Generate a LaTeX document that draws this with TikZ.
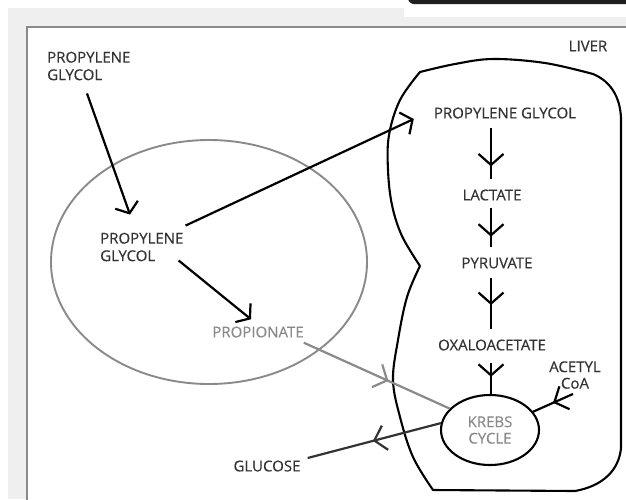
\documentclass[tikz,border=0pt]{standalone}
\usepackage{fontspec}
\setmainfont{Open Sans}
\newfontfamily\lblfont{Open Sans}[FakeBold=0.35]
\usetikzlibrary{arrows.meta,decorations.markings,calc,shapes.geometric}
\definecolor{txt}{HTML}{333333}
\definecolor{lgray}{HTML}{8A8A8A}
\definecolor{dgray}{HTML}{333333}
\definecolor{bg}{HTML}{EFEFEF}
\begin{document}
\begin{tikzpicture}[x=1pt,y=-1pt,
  lbl/.style={font=\lblfont\fontsize{15}{17.5}\selectfont, text=txt, inner sep=0pt, align=center},
  arr/.style={draw=black, line width=2.2pt, -{Straight Barb[length=9pt,width=24pt]}},
  midarr/.style={line width=2.2pt, postaction={decorate},
    decoration={markings, mark=at position #1 with {\arrow{Straight Barb[length=11pt,width=25pt]}}}},
]
\useasboundingbox (0,0) rectangle (626,499);
% background frame
\fill[bg] (8,8) rectangle (626,499);
\fill[white] (404,0) rectangle (626,17);
\fill[black!88, rounded corners=6pt] (408,-12) rectangle (640,4);
\draw[fill=white, draw=lgray, line width=1.3pt] (27,27) rectangle (640,510);

% body ellipse
\node[ellipse, draw=lgray, line width=1.9pt, minimum width=316pt, minimum height=244pt, inner sep=0pt] (body) at (209,262) {};

% liver outline
\draw[line width=2.1pt, line join=round]
  plot[smooth, tension=0.6] coordinates {(420,266) (407,297) (398,340) (393,380) (400,417) (413,457) (433,490)}
  -- (575,491) .. controls (603,486) and (619,470) .. (621,448)
  -- (621,118) .. controls (620,96) and (610,81) .. (593,74)
  -- plot[smooth, tension=0.6] coordinates {(593,74) (545,63) (493,59) (455,64) (420,72)}
  -- plot[smooth, tension=0.6] coordinates {(420,72) (400,100) (389,135) (388,170) (392,205) (402,236) (420,266)};

% labels
\node[lbl, align=left, anchor=west] (pg0) at (47,66) {PROPYLENE\\GLYCOL};
\node[lbl, align=left, anchor=west] (pg1) at (100,247) {PROPYLENE\\GLYCOL};
\node[lbl, text=lgray] (prop) at (258,332) {PROPIONATE};
\node[lbl] (glu) at (267,466) {GLUCOSE};
\node[lbl] (liver) at (588,46) {LIVER};
\node[lbl] (pg2) at (505,113) {PROPYLENE GLYCOL};
\node[lbl] (lac) at (492,195) {LACTATE};
\node[lbl] (pyr) at (497,263) {PYRUVATE};
\node[lbl] (oxa) at (492,345) {OXALOACETATE};
\node[ellipse, draw, line width=2.1pt, minimum width=98pt, minimum height=70pt, inner sep=0pt,
      font=\lblfont\fontsize{15}{16.5}\selectfont, text=lgray, align=center] (krebs) at (490,430) {KREBS\\CYCLE};
\node[lbl, font=\lblfont\fontsize{15}{16.5}\selectfont] (acoa) at (575,375) {ACETYL\\CoA};
\coordinate (kc) at (491,0);

% connectors
\draw[arr] ($(pg0.south west)+(40,13)$) -- ($(pg1.north west)+(30,-18)$);
\draw[arr] ($(pg1.north east)+(2,-7)$) -- ($(pg2.west)+(-20,6)$);
\draw[arr] ($(pg1.south east)+(-5,-1)$) -- ($(prop.north)+(-7,-7)$);

\draw[midarr=0.75] ($(pg2.south -| kc)+(0,9)$) -- ($(lac.north -| kc)+(0,-10)$);
\draw[midarr=0.73] ($(lac.south -| kc)+(0,7)$) -- ($(pyr.north -| kc)+(0,-10)$);
\draw[midarr=0.53] ($(pyr.south -| kc)+(0,9)$) -- ($(oxa.north -| kc)+(0,-10)$);
\draw[midarr=0.45] ($(oxa.south -| kc)+(0,12)$) -- (krebs.north -| kc);

\draw[midarr=0.58, draw=lgray] ($(prop.south east)+(0,5)$) -- (krebs.152);
\draw[midarr=0.51, draw=dgray] (krebs.172) -- ($(glu.east)+(7,-8)$);
\draw[midarr=0.5] ($(acoa.south)+(-2,5)$) -- (krebs.23);
\end{tikzpicture}
\end{document}
